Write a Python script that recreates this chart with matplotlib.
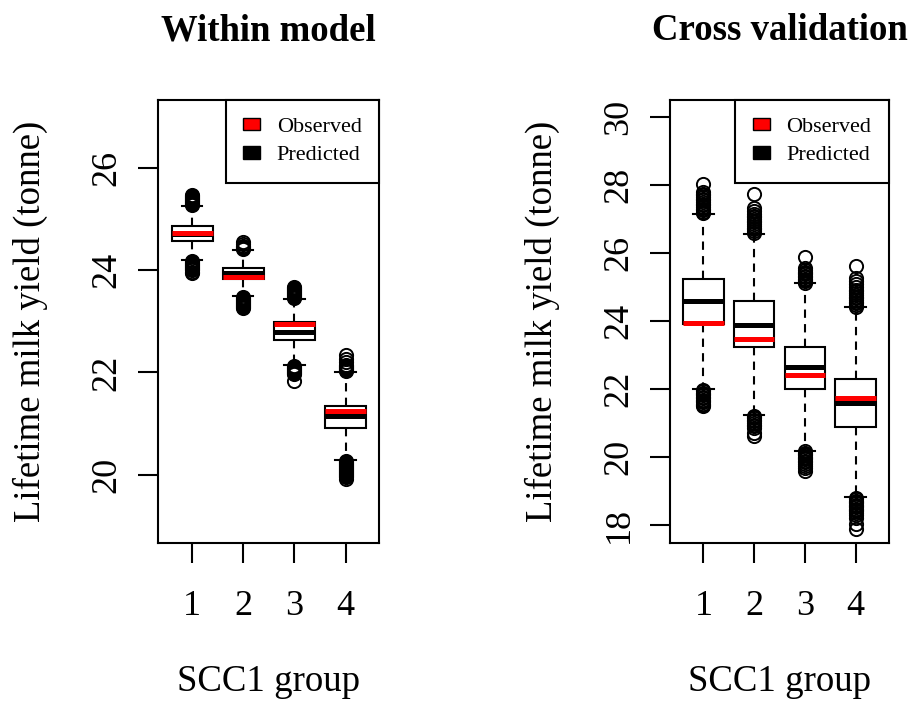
import numpy as np
import matplotlib.pyplot as plt
from matplotlib.patches import Patch

plt.rcParams['font.family'] = ['Liberation Serif', 'DejaVu Serif']

groups = [1, 2, 3, 4]
tick_labels = ['1', '2', '3', '4']

# Within model: box of predicted values, red line = observed
within_q1 = [24.58, 23.82, 22.63, 20.91]
within_med = [24.71, 23.95, 22.80, 21.14]
within_q3 = [24.87, 24.05, 22.99, 21.35]
within_lo = [24.20, 23.50, 22.15, 20.29]
within_hi = [25.25, 24.39, 23.43, 22.00]
within_obs = [24.72, 23.86, 22.94, 21.24]
within_out = [
    [25.27, 25.29, 25.31, 25.33, 25.35, 25.37, 25.39, 25.41, 25.43, 25.45, 25.47,
     24.18, 24.16, 24.14, 24.12, 24.10, 24.08, 24.06, 24.04, 24.02, 24.00, 23.97, 23.94],
    [24.41, 24.43, 24.45, 24.48, 24.52, 24.56,
     23.48, 23.46, 23.44, 23.42, 23.40, 23.38, 23.36, 23.34, 23.32, 23.30, 23.28, 23.26],
    [23.45, 23.47, 23.49, 23.51, 23.53, 23.55, 23.57, 23.59, 23.61, 23.63, 23.65, 23.68,
     22.13, 22.11, 22.09, 22.07, 22.05, 22.03, 22.01, 21.99, 21.97, 21.83],
    [22.02, 22.04, 22.06, 22.08, 22.10, 22.12, 22.15, 22.20, 22.27, 22.35,
     20.27, 20.25, 20.23, 20.21, 20.19, 20.17, 20.15, 20.13, 20.11, 20.09, 20.07,
     20.05, 20.03, 20.01, 19.99, 19.97, 19.95, 19.92],
]

# Cross validation
cv_q1 = [23.90, 23.23, 22.00, 20.87]
cv_med = [24.59, 23.87, 22.64, 21.60]
cv_q3 = [25.23, 24.59, 23.23, 22.29]
cv_lo = [22.00, 21.24, 20.19, 18.83]
cv_hi = [27.15, 26.56, 25.11, 24.40]
cv_obs = [23.93, 23.46, 22.41, 21.73]
cv_out = [
    [27.18, 27.22, 27.26, 27.30, 27.35, 27.40, 27.45, 27.50, 27.55, 27.60, 27.65, 27.70,
     27.75, 27.80, 28.02,
     21.97, 21.93, 21.89, 21.85, 21.81, 21.77, 21.73, 21.69, 21.65, 21.61, 21.57, 21.53, 21.50],
    [26.60, 26.65, 26.70, 26.75, 26.80, 26.85, 26.90, 26.95, 27.00, 27.05, 27.10, 27.15,
     27.25, 27.31, 27.74,
     21.22, 21.18, 21.14, 21.10, 21.05, 21.00, 20.95, 20.90, 20.84, 20.70, 20.62],
    [25.13, 25.17, 25.21, 25.25, 25.29, 25.33, 25.37, 25.41, 25.45, 25.50, 25.55, 25.87,
     20.17, 20.13, 20.09, 20.05, 20.01, 19.97, 19.93, 19.89, 19.85, 19.80, 19.75, 19.68, 19.60],
    [24.42, 24.47, 24.52, 24.57, 24.62, 24.67, 24.72, 24.77, 24.82, 24.87, 24.92, 25.00,
     25.10, 25.18, 25.26, 25.63,
     18.80, 18.76, 18.72, 18.68, 18.64, 18.60, 18.56, 18.52, 18.48, 18.44, 18.40, 18.35,
     18.30, 18.20, 18.04, 17.87],
]


def draw_panel(ax, title, q1, med, q3, lo, hi, obs, fliers, ylim, yticks):
    stats = []
    for i in range(len(groups)):
        stats.append(dict(med=med[i], q1=q1[i], q3=q3[i], whislo=lo[i],
                          whishi=hi[i], fliers=fliers[i]))
    ax.bxp(stats, positions=groups, widths=0.8, capwidths=0.4, patch_artist=True,
           boxprops=dict(facecolor='white', edgecolor='black', linewidth=1.5),
           medianprops=dict(color='black', linewidth=3.6, solid_capstyle='butt'),
           whiskerprops=dict(color='black', linewidth=1.5, linestyle=(0, (4, 3))),
           capprops=dict(color='black', linewidth=1.5),
           flierprops=dict(marker='o', markerfacecolor='none', markeredgecolor='black',
                           markersize=9.5, markeredgewidth=1.4))
    pos = np.array(groups)
    ax.hlines(obs, pos - 0.4, pos + 0.4, colors='red', linewidth=3.6,
              capstyle='butt', zorder=5)

    ax.set_xlim(0.34, 4.66)
    ax.set_ylim(*ylim)
    ax.set_xticks(groups)
    ax.set_xticklabels(tick_labels)
    ax.set_yticks(yticks)
    ax.set_yticklabels([str(t) for t in yticks], rotation=90, va='center')
    for s in ax.spines.values():
        s.set_linewidth(1.5)
    ax.tick_params(axis='both', length=14.4, width=1.5, labelsize=26)
    ax.tick_params(axis='x', pad=20)
    ax.tick_params(axis='y', pad=10.5)

    ax.set_title(title, fontsize=26.5, fontweight='bold', y=1.1355, pad=0)
    ax.set_xlabel('SCC1 group', fontsize=26.5)
    ax.set_ylabel('Lifetime milk yield (tonne)', fontsize=26.5)
    ax.xaxis.set_label_coords(0.5, -0.274)
    ax.yaxis.set_label_coords(-0.5, 0.5)

    handles = [Patch(facecolor='red', edgecolor='black', linewidth=1.0),
               Patch(facecolor='black', edgecolor='black', linewidth=1.0)]
    leg = ax.legend(handles, ['Observed', 'Predicted'], loc='upper right',
                    fontsize=16, frameon=True, fancybox=False, framealpha=1,
                    edgecolor='black', borderaxespad=0, handlelength=0.75,
                    handleheight=0.5, handletextpad=0.75, labelspacing=0.4,
                    borderpad=0.8)
    leg.get_frame().set_linewidth(1.5)


fig = plt.figure(figsize=(9.17, 7.02), dpi=100)
ax1 = fig.add_axes([0.1726, 0.2269, 0.2411, 0.6306])
ax2 = fig.add_axes([0.7306, 0.2269, 0.2389, 0.6306])

draw_panel(ax1, 'Within model', within_q1, within_med, within_q3, within_lo, within_hi,
           within_obs, within_out, (18.67, 27.33), [20, 22, 24, 26])
draw_panel(ax2, 'Cross validation', cv_q1, cv_med, cv_q3, cv_lo, cv_hi,
           cv_obs, cv_out, (17.48, 30.5), [18, 20, 22, 24, 26, 28, 30])

fig.savefig('out.png', dpi=100)
